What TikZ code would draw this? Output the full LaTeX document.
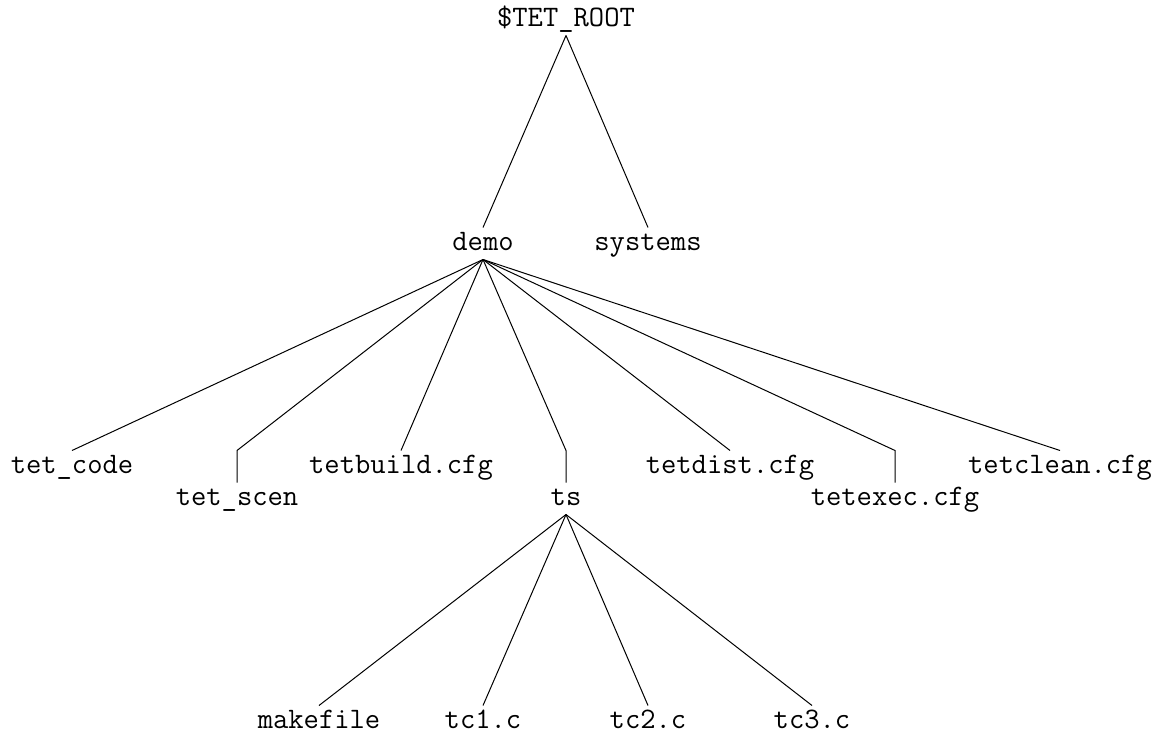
\documentclass[tikz,border=0pt]{standalone}
\usepackage{fontspec}
\usepackage{tikz}

\begin{document}
\begin{tikzpicture}[x=0.5pt, y=-0.5pt, line width=0.5pt,
    file/.style={font=\ttfamily\fontsize{14.86}{17}\selectfont, anchor=base,
        inner sep=0pt, text height=11pt, text depth=4.5pt}]
    \useasboundingbox[fill=white] (0,0) rectangle (1161,734);
    \node[file] (root) at (566,26) {\$TET\_ROOT};
    \node[file] (demo) at (483,250) {demo};
    \node[file] (systems) at (648,250) {systems};
    \node[file] (tetcode) at (72,473) {tet\_code};
    \node[file] (tetscen) at (237,505) {tet\_scen};
    \node[file] (tetbuild) at (401,473) {tetbuild.cfg};
    \node[file] (ts) at (566,505) {ts};
    \node[file] (tetdist) at (730,473) {tetdist.cfg};
    \node[file] (tetexec) at (895,505) {tetexec.cfg};
    \node[file] (tetclean) at (1060,473) {tetclean.cfg};
    \node[file] (makefile) at (319,728) {makefile};
    \node[file] (tcone) at (483,728) {tc1.c};
    \node[file] (tctwo) at (648,728) {tc2.c};
    \node[file] (tcthree) at (812,728) {tc3.c};
    \path
    (root.south) edge (demo.north)
                 edge (systems.north)
    (demo.south) edge (tetcode.north)
                 edge (tetbuild.north)
                 edge (tetdist.north)
                 edge (tetclean.north)
    (ts.south) edge (makefile.north)
               edge (tcone.north)
               edge (tctwo.north)
               edge (tcthree.north);
    % children one row lower get a short drop
    \draw (demo.south) -- (tetscen.north |- tetcode.north) -- (tetscen.north);
    \draw (demo.south) -- (ts.north |- tetcode.north) -- (ts.north);
    \draw (demo.south) -- (tetexec.north |- tetcode.north) -- (tetexec.north);
\end{tikzpicture}
\end{document}
